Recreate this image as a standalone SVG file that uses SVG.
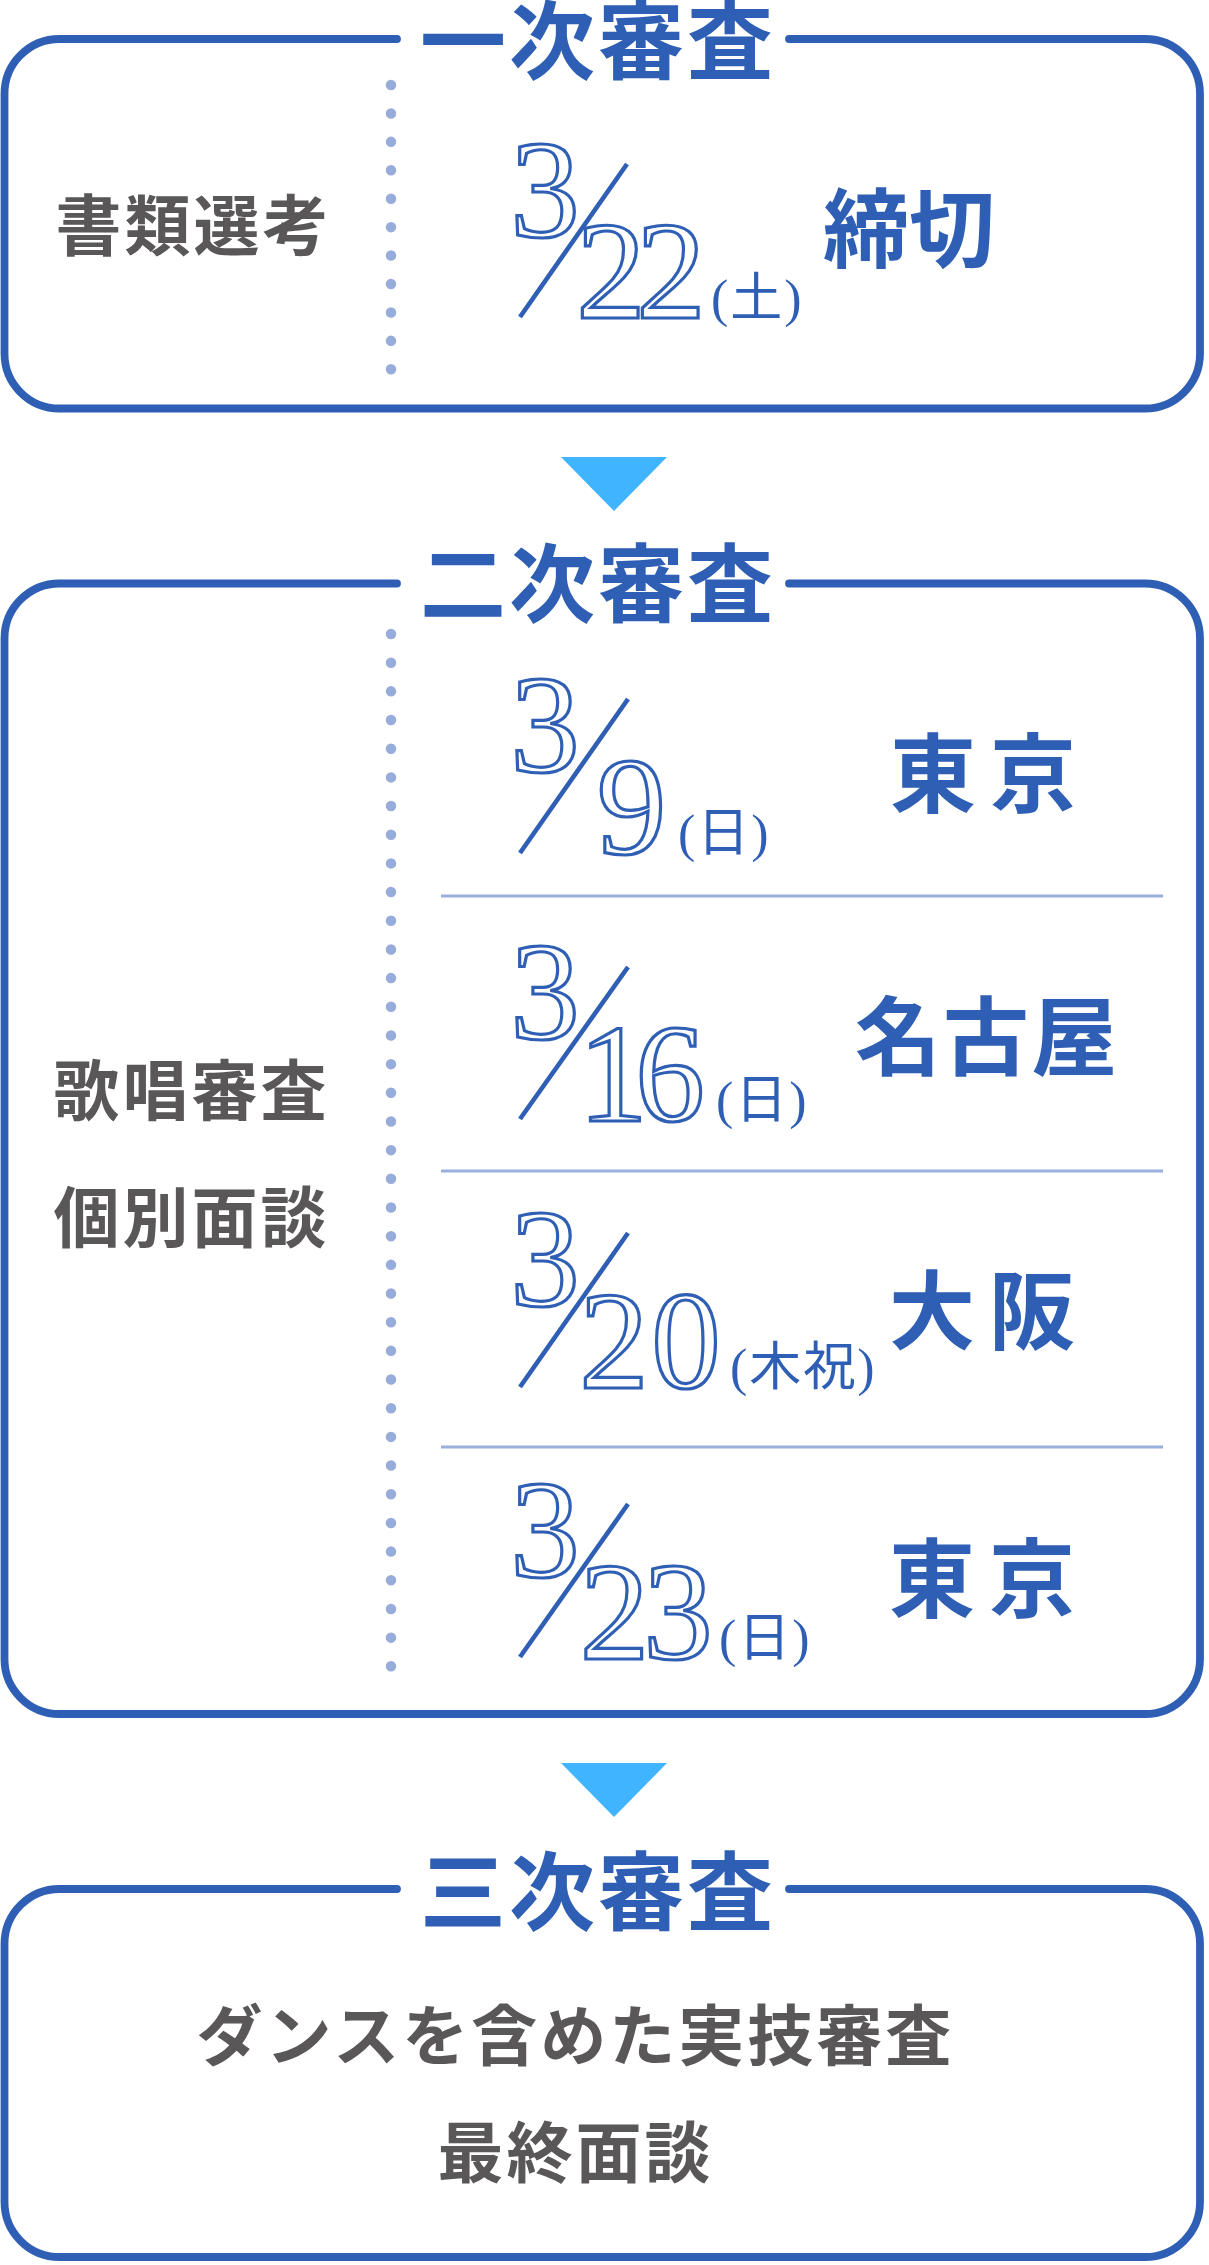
<svg xmlns="http://www.w3.org/2000/svg" width="1209" height="2265" viewBox="0 0 1209 2265">
<style>
.frame{fill:none;stroke:#2f5fb4;stroke-width:7.8;stroke-linecap:round;stroke-linejoin:round}
.dots{fill:none;stroke:#97acdb;stroke-width:10.5;stroke-linecap:round}
.sep{stroke:#9aafdc;stroke-width:3}
.tri{fill:#41b4ff}
.title{font-family:"Noto Sans CJK JP","Noto Sans CJK SC",sans-serif;font-weight:700;font-size:86px;fill:#2f5fb4;letter-spacing:3px}
.place{font-family:"Noto Sans CJK JP","Noto Sans CJK SC",sans-serif;font-weight:700;font-size:86px;fill:#2f5fb4}
.gray{font-family:"Noto Sans CJK JP","Noto Sans CJK SC",sans-serif;font-weight:700;font-size:66px;fill:#595757;letter-spacing:3px}
.num{font-family:"Liberation Serif","Times New Roman",serif;font-size:139px;fill:#fff;stroke:#2f5fb4;stroke-width:3.2}
.slash{stroke:#2f5fb4;stroke-width:4.6}
.day{font-family:"Liberation Serif","Noto Sans CJK JP",serif;font-size:52px;fill:#2f5fb4;stroke:none;letter-spacing:2px}
</style>
<g id="connectors">
<polygon class="tri" points="561,457 667,457 614,511"/>
<polygon class="tri" points="561,1763 667,1763 614,1817"/>
</g>
<g id="stage1">
<path class="frame" d="M397,39 H59.5 A55,55 0 0 0 4.5,94 V353.5 A55,55 0 0 0 59.5,408.5 H1145 A55,55 0 0 0 1200,353.5 V94 A55,55 0 0 0 1145,39 H789"/>
<text class="title" x="420" y="73">一次審査</text>
<path class="dots" d="M391,85 V370" stroke-dasharray="0 28.43"/>
<text class="gray" x="55.5" y="250">書類選考</text>
<line class="slash" x1="627" y1="164" x2="520" y2="317"/>
<text class="num"><tspan x="510.25" y="237">3</tspan><tspan x="576.25" y="318">2</tspan><tspan x="636.25" y="318">2</tspan><tspan class="day" x="711" y="316">(土)</tspan></text>
<text class="place" x="823" y="261">締切</text>
</g>
<g id="stage2">
<path class="frame" d="M397,583.5 H59.5 A55,55 0 0 0 4.5,638.5 V1659 A55,55 0 0 0 59.5,1714 H1145 A55,55 0 0 0 1200,1659 V638.5 A55,55 0 0 0 1145,583.5 H789"/>
<text class="title" x="420" y="616">二次審査</text>
<path class="dots" d="M391,634 V1667" stroke-dasharray="0 28.675"/>
<text class="gray" x="53.5" y="1115">歌唱審査</text>
<text class="gray" x="53.5" y="1242">個別面談</text>
<line class="sep" x1="441" y1="896" x2="1163" y2="896"/>
<line class="sep" x1="441" y1="1171" x2="1163" y2="1171"/>
<line class="sep" x1="441" y1="1447" x2="1163" y2="1447"/>
<g id="row1">
<line class="slash" x1="628" y1="699" x2="520" y2="853"/>
<text class="num"><tspan x="510.25" y="772">3</tspan><tspan x="596.75" y="854">9</tspan><tspan class="day" x="678" y="851">(日)</tspan></text>
<text class="place" x="890" y="806" letter-spacing="14">東京</text>
</g>
<g id="row2">
<line class="slash" x1="628" y1="967" x2="520" y2="1119"/>
<text class="num"><tspan x="510.25" y="1039">3</tspan><tspan x="578.25" y="1121">1</tspan><tspan x="635.25" y="1121">6</tspan><tspan class="day" x="716" y="1118">(日)</tspan></text>
<text class="place" x="855" y="1069" letter-spacing="2">名古屋</text>
</g>
<g id="row3">
<line class="slash" x1="628" y1="1233" x2="520" y2="1387"/>
<text class="num"><tspan x="510.25" y="1306">3</tspan><tspan x="579.25" y="1388">2</tspan><tspan x="651.25" y="1388">0</tspan><tspan class="day" x="730" y="1385">(木祝)</tspan></text>
<text class="place" x="889" y="1343" letter-spacing="14">大阪</text>
</g>
<g id="row4">
<line class="slash" x1="628" y1="1504" x2="520" y2="1657"/>
<text class="num"><tspan x="510.25" y="1577">3</tspan><tspan x="579.75" y="1659">2</tspan><tspan x="643.25" y="1659">3</tspan><tspan class="day" x="719" y="1656">(日)</tspan></text>
<text class="place" x="889" y="1611" letter-spacing="14">東京</text>
</g>
</g>
<g id="stage3">
<path class="frame" d="M397,1889 H59.5 A55,55 0 0 0 4.5,1944 V2202 A55,55 0 0 0 59.5,2257 H1145 A55,55 0 0 0 1200,2202 V1944 A55,55 0 0 0 1145,1889 H789"/>
<text class="title" x="420" y="1924">三次審査</text>
<text class="gray" x="196.5" y="2060">ダンスを含めた実技審査</text>
<text class="gray" x="437.5" y="2177">最終面談</text>
</g>
</svg>
